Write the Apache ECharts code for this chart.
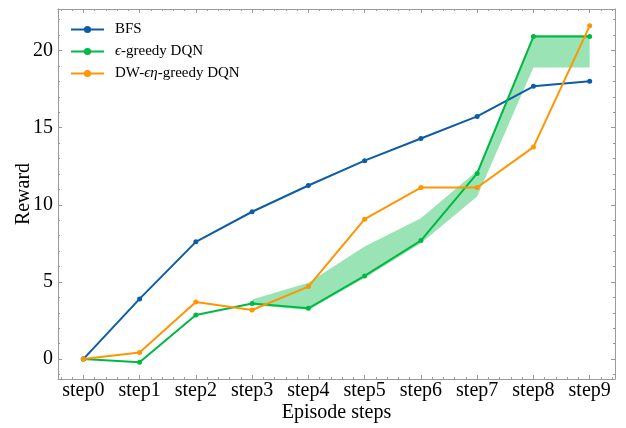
<!DOCTYPE html>
<html><head><meta charset="utf-8">
<script src="https://cdn.jsdelivr.net/npm/echarts@6/dist/echarts.min.js"></script>
<style>html,body{margin:0;padding:0;background:#fff}#c{width:626px;height:428px}</style>
</head><body><div id="c"></div>
<script>
const categories = ['step0','step1','step2','step3','step4','step5','step6','step7','step8','step9'];
const bfs       = [0, 3.9, 7.6, 9.55, 11.25, 12.86, 14.3, 15.73, 17.68, 18.0];
const epsGreedy = [0, -0.2, 2.86, 3.6, 3.29, 5.39, 7.68, 12.03, 20.9, 20.9];
const dwGreedy  = [0, 0.43, 3.7, 3.18, 4.7, 9.07, 11.12, 11.12, 13.74, 21.6];
const bandSteps = [3, 4, 5, 6, 7, 8, 9];
const bandLower = [3.5, 3.18, 5.25, 7.5, 10.54, 18.9, 18.9];
const bandUpper = [3.87, 4.95, 7.3, 9.13, 12.2, 21.0, 21.0];
const yTickValues = [0, 5, 10, 15, 20];

const FONT = 'Liberation Serif';
const AX = '#9a9a9a';
const xMin = -0.45, xMax = 9.45, yMin = -1.29, yMax = 22.69;
const xMajor = categories.map((_, i) => i);
const xMinor = []; for (let v = -4; v <= 94; v += 2) { if (v % 10 !== 0) xMinor.push(v / 10); }
const yMinor = []; for (let v = -1; v <= 22; v++) { if (v % 5 !== 0) yMinor.push(v); }

const pts = arr => arr.map((v, i) => [i, v]);
function xAx(pos, major, labels) {
  return {
    type: 'value', min: xMin, max: xMax, position: pos,
    axisLine: { show: major, onZero: false, lineStyle: { color: AX, width: 1 } },
    axisTick: { show: true, inside: true, length: major ? 4 : 2, lineStyle: { color: AX },
      customValues: major ? xMajor : xMinor },
    axisLabel: { show: labels, customValues: xMajor, margin: 2,
      formatter: v => categories[Math.round(v)], fontFamily: FONT, fontSize: 20, color: '#000' },
    splitLine: { show: false },
    name: labels ? 'Episode steps' : '', nameLocation: 'middle', nameGap: 24, nameMoveOverlap: false,
    nameTextStyle: { fontFamily: FONT, fontSize: 20, color: '#000' }
  };
}
function yAx(pos, major, labels) {
  return {
    type: 'value', min: yMin, max: yMax, position: pos,
    axisLine: { show: major, onZero: false, lineStyle: { color: AX, width: 1 } },
    axisTick: { show: true, inside: true, length: major ? 4 : 2, lineStyle: { color: AX },
      customValues: major ? yTickValues : yMinor },
    axisLabel: { show: labels, customValues: yTickValues, margin: 5,
      fontFamily: FONT, fontSize: 20, color: '#000' },
    splitLine: { show: false },
    name: labels ? 'Reward' : '', nameLocation: 'middle', nameGap: 24, nameRotate: 90, nameMoveOverlap: false,
    nameTextStyle: { fontFamily: FONT, fontSize: 20, color: '#000' }
  };
}

const labelMap = {
  'BFS': 'BFS',
  'eps': '{m|ϵ}-greedy DQN',
  'dw': 'DW-{m|ϵη}-greedy DQN'
};

const chart = echarts.init(document.getElementById('c'), null, { renderer: 'canvas' });
chart.setOption({
  animation: false,
  backgroundColor: '#fff',
  grid: { left: 58, right: 11, top: 9, bottom: 49, containLabel: false, outerBoundsMode: 'none' },
  xAxis: [xAx('bottom', true, true), xAx('bottom', false, false), xAx('top', true, false), xAx('top', false, false)],
  yAxis: [yAx('left', true, true), yAx('left', false, false), yAx('right', true, false), yAx('right', false, false)],
  legend: {
    data: ['BFS', 'eps', 'dw'], orient: 'vertical', left: 70, top: 22, padding: 0,
    itemWidth: 33, itemHeight: 9, itemGap: 7,
    formatter: n => labelMap[n],
    textStyle: { fontFamily: FONT, fontSize: 15, lineHeight: 15, color: '#000', padding: [0, 0, 0, 6],
      rich: { m: { fontFamily: FONT, fontSize: 15, fontStyle: 'italic', color: '#000' } } }
  },
  series: [
    { name: 'band', type: 'custom', silent: true, z: 1, data: [[0]],
      renderItem: function (params, api) {
        const up = bandSteps.map((s, i) => api.coord([s, bandUpper[i]]));
        const lo = bandSteps.map((s, i) => api.coord([s, bandLower[i]])).reverse();
        return { type: 'polygon', shape: { points: up.concat(lo) },
          style: { fill: 'rgba(0,185,69,0.4)', stroke: null } };
      } },
    { name: 'BFS', type: 'line', data: pts(bfs), color: '#0C5DA5', symbol: 'circle', symbolSize: 5,
      lineStyle: { width: 2 }, z: 3 },
    { name: 'eps', type: 'line', data: pts(epsGreedy), color: '#00B945', symbol: 'circle', symbolSize: 5,
      lineStyle: { width: 2 }, z: 4 },
    { name: 'dw', type: 'line', data: pts(dwGreedy), color: '#FF9500', symbol: 'circle', symbolSize: 5,
      lineStyle: { width: 2 }, z: 5 }
  ]
});
</script></body></html>
